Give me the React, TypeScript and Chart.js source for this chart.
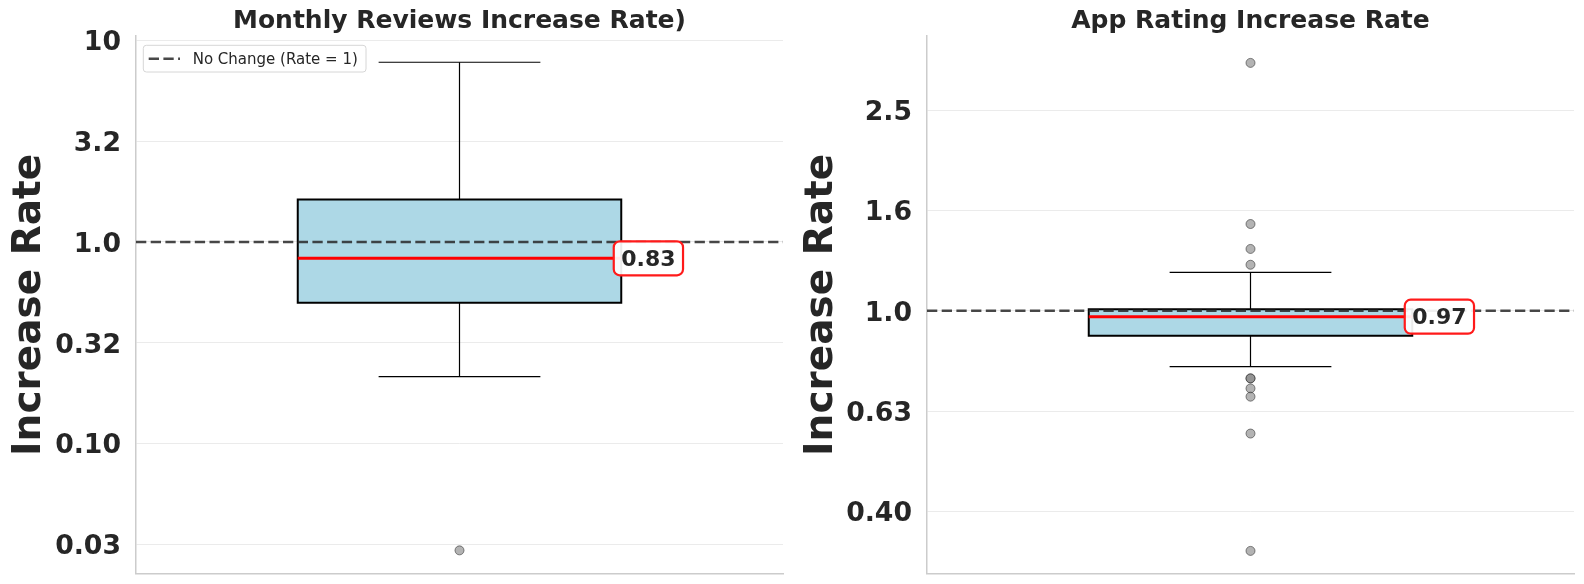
import React, { useEffect, useRef } from 'react';
import { Chart, registerables } from 'chart.js';

Chart.register(...registerables);

const FONT = "'DejaVu Sans', 'Liberation Sans', sans-serif";
const TEXT = '#262626';

// ---- text ----
const reviewsTitle = 'Monthly Reviews Increase Rate)';
const ratingTitle = 'App Rating Increase Rate';
const yAxisTitle = 'Increase Rate';
const refLabel = 'No Change (Rate = 1)';
const refValue = 1;

// ---- Monthly reviews: [lower whisker, Q1, median, Q3, upper whisker] ----
const reviewsStats = [0.2145, 0.4994, 0.829, 1.623, 7.78];
const reviewsOutliers = [0.0295];
const reviewsTickValues = [0.03162, 0.1, 0.3162, 1, 3.162, 10];
const reviewsTickLabels = ['0.03', '0.10', '0.32', '1.0', '3.2', '10'];
const reviewsRange = [0.0226, 10.5];

// ---- App rating: [lower whisker, Q1, median, Q3, upper whisker] ----
const ratingStats = [0.774, 0.8915, 0.973, 1.007, 1.192];
const ratingOutliers = [3.12, 1.489, 1.328, 1.235, 0.733, 0.733, 0.7, 0.674, 0.569, 0.332];
const ratingTickValues = [0.3981, 0.631, 1, 1.585, 2.512];
const ratingTickLabels = ['0.40', '0.63', '1.0', '1.6', '2.5'];
const ratingRange = [0.299, 3.53];

const decorPlugin = {
  id: 'decor',
  afterDatasetsDraw(chart: any, _args: any, opts: any) {
    const { ctx, chartArea, scales } = chart;
    const x = scales.x;
    const y = scales.y;
    ctx.save();
    // median annotation
    const med = opts.median;
    const label = med.toFixed(2);
    ctx.font = `bold 22px ${FONT}`;
    const tw = ctx.measureText(label).width;
    const px = x.getPixelForValue(opts.labelX);
    const py = y.getPixelForValue(med);
    const bh = 34;
    ctx.beginPath();
    ctx.roundRect(px - 7.5, py - bh / 2, tw + 15, bh, 6);
    ctx.fillStyle = 'rgba(255,255,255,0.92)';
    ctx.fill();
    ctx.lineWidth = 2.2;
    ctx.strokeStyle = '#ff1a1a';
    ctx.stroke();
    ctx.fillStyle = TEXT;
    ctx.textAlign = 'left';
    ctx.textBaseline = 'middle';
    ctx.fillText(label, px, py + 1.5);

    if (opts.legend) {
      const ds = chart.data.datasets[0];
      const lx = chartArea.left + 7.3;
      const ly = chartArea.top + 9.3;
      ctx.beginPath();
      ctx.roundRect(lx, ly, 222.7, 26.7, 3);
      ctx.fillStyle = 'rgba(255,255,255,0.85)';
      ctx.fill();
      ctx.lineWidth = 1;
      ctx.strokeStyle = '#d6d6d6';
      ctx.stroke();
      const cy = ly + 13.4;
      ctx.beginPath();
      ctx.setLineDash(ds.borderDash);
      ctx.lineWidth = ds.borderWidth;
      ctx.strokeStyle = ds.borderColor;
      ctx.moveTo(lx + 5.4, cy);
      ctx.lineTo(lx + 36.7, cy);
      ctx.stroke();
      ctx.setLineDash([]);
      ctx.font = `15px ${FONT}`;
      ctx.fillStyle = TEXT;
      ctx.textAlign = 'left';
      ctx.textBaseline = 'middle';
      ctx.fillText(ds.label, lx + 49.4, cy + 1);
    }
    ctx.restore();
  },
};

function makeConfig(p: any) {
  const [lo, q1, med, q3, hi] = p.stats;
  const seg = (pts: any[], color: string, width: number, order: number) => ({
    type: 'line',
    data: pts,
    borderColor: color,
    borderWidth: width,
    pointRadius: 0,
    pointHoverRadius: 0,
    fill: false,
    tension: 0,
    order,
    borderCapStyle: 'butt',
  });
  const boxPts = [
    { x: 0.75, y: q1 },
    { x: 1.25, y: q1 },
    { x: 1.25, y: q3 },
    { x: 0.75, y: q3 },
    { x: 0.75, y: q1 },
    { x: 1.25, y: q1 },
  ];
  return {
    type: 'scatter',
    data: {
      datasets: [
        {
          ...seg([{ x: 0.5, y: refValue }, { x: 1.5, y: refValue }], 'rgba(40,40,40,0.85)', 2.5, 1),
          label: refLabel,
          borderDash: [10.3, 4.4],
        },
        {
          type: 'scatter',
          label: 'Outliers',
          data: p.outliers.map((v: number) => ({ x: 1, y: v })),
          pointRadius: 4.5,
          pointHoverRadius: 4.5,
          backgroundColor: 'rgba(128,128,128,0.6)',
          borderColor: 'rgba(40,40,40,0.55)',
          borderWidth: 1,
          order: 2,
        },
        { ...seg([{ x: 0.75, y: med }, { x: 1.25, y: med }], '#ff0000', 3, 3), label: 'Median' },
        { ...seg([{ x: 1, y: q3 }, { x: 1, y: hi }], '#000000', 1.2, 4), label: 'Upper whisker' },
        { ...seg([{ x: 0.875, y: hi }, { x: 1.125, y: hi }], '#000000', 1.2, 4), label: 'Upper cap' },
        { ...seg([{ x: 1, y: lo }, { x: 1, y: q1 }], '#000000', 1.2, 4), label: 'Lower whisker' },
        { ...seg([{ x: 0.875, y: lo }, { x: 1.125, y: lo }], '#000000', 1.2, 4), label: 'Lower cap' },
        {
          ...seg(boxPts, '#000000', 2, 5),
          label: 'IQR',
          fill: 'shape',
          backgroundColor: '#ADD8E6',
          borderJoinStyle: 'miter',
        },
      ],
    },
    options: {
      animation: false,
      responsive: false,
      devicePixelRatio: 1,
      events: [],
      layout: { padding: { left: 0, right: p.padRight, top: 0, bottom: 10.3 } },
      plugins: {
        legend: { display: false },
        tooltip: { enabled: false },
        title: {
          display: true,
          text: p.title,
          fullSize: false,
          color: TEXT,
          font: { family: FONT, size: 25, weight: 'bold', lineHeight: 1.14 },
          padding: { top: 7, bottom: 0.5 },
        },
        decor: { median: med, labelX: 1.25, legend: p.legend },
      },
      scales: {
        x: {
          type: 'linear',
          min: 0.5,
          max: 1.5,
          bounds: 'data',
          display: true,
          ticks: { display: false },
          grid: { display: false, drawTicks: false },
          border: { display: true, color: '#cccccc', width: 1.5 },
        },
        y: {
          type: 'logarithmic',
          min: p.range[0],
          max: p.range[1],
          bounds: 'data',
          afterBuildTicks: (s: any) => {
            s.ticks = p.tickValues.map((v: number) => ({ value: v }));
          },
          afterFit: (s: any) => {
            s.width = p.yWidth;
            s.paddingTop = 0;
            s.paddingBottom = 0;
          },
          ticks: {
            callback: (_v: any, i: number) => p.tickLabels[i],
            color: TEXT,
            padding: 15,
            labelOffset: 3,
            autoSkip: false,
            font: { family: FONT, size: 26.7, weight: 'bold' },
          },
          grid: { color: '#ebebeb', lineWidth: 1, drawTicks: false },
          border: { display: true, color: '#cccccc', width: 1.5 },
          title: {
            display: true,
            text: yAxisTitle,
            color: TEXT,
            font: { family: FONT, size: 39, weight: 'bold', lineHeight: 1.2 },
            padding: { top: 6.6, bottom: 0 },
          },
        },
      },
    },
    plugins: [decorPlugin],
  };
}

export default function App() {
  const leftRef = useRef<HTMLCanvasElement | null>(null);
  const rightRef = useRef<HTMLCanvasElement | null>(null);

  useEffect(() => {
    const c1 = new Chart(
      leftRef.current as HTMLCanvasElement,
      makeConfig({
        title: reviewsTitle,
        stats: reviewsStats,
        outliers: reviewsOutliers,
        tickValues: reviewsTickValues,
        tickLabels: reviewsTickLabels,
        range: reviewsRange,
        yWidth: 136,
        padRight: 9,
        legend: true,
      }) as any
    );
    const c2 = new Chart(
      rightRef.current as HTMLCanvasElement,
      makeConfig({
        title: ratingTitle,
        stats: ratingStats,
        outliers: ratingOutliers,
        tickValues: ratingTickValues,
        tickLabels: ratingTickLabels,
        range: ratingRange,
        yWidth: 135,
        padRight: 10,
        legend: false,
      }) as any
    );
    return () => {
      c1.destroy();
      c2.destroy();
    };
  }, []);

  return (
    <div style={{ position: 'fixed', left: 0, top: 0, width: 1584, height: 584, background: '#ffffff' }}>
      <canvas ref={leftRef} width={792} height={584} style={{ position: 'absolute', left: 0, top: 0 }} />
      <canvas ref={rightRef} width={792} height={584} style={{ position: 'absolute', left: 792, top: 0 }} />
    </div>
  );
}
